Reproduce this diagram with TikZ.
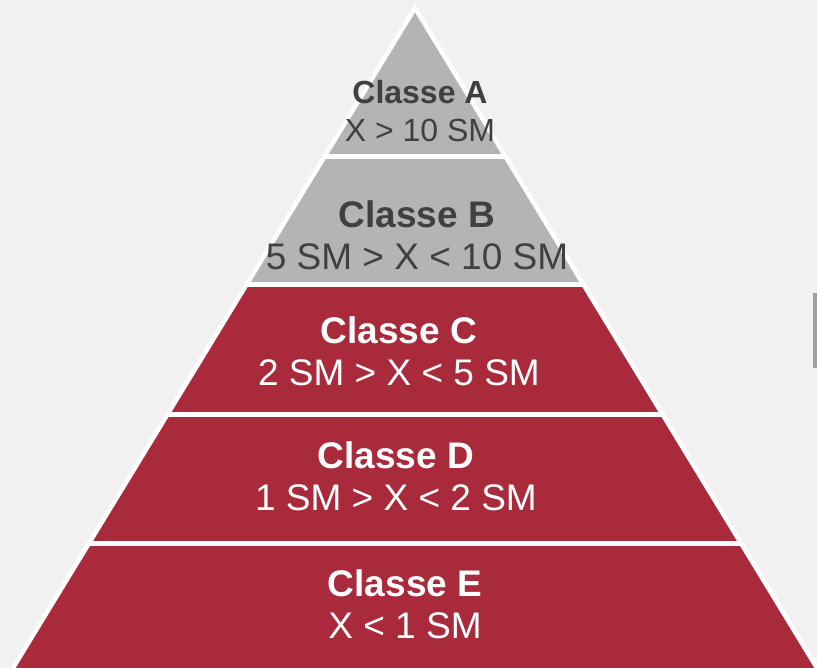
\documentclass[tikz,border=0pt]{standalone}
\usepackage{fontspec}
\setmainfont{Liberation Sans}
\usepackage{tikz}
\definecolor{bgpage}{HTML}{F1F1F1}
\definecolor{layergray}{HTML}{B4B4B4}
\definecolor{layerred}{HTML}{A82A3B}
\definecolor{textgray}{HTML}{404040}
\tikzset{
	sep/.style={white,line width=5pt},
	outline/.style={white,line width=4.5pt,line join=miter},
	lbl/.style={align=center,inner sep=0pt,font=\fontsize{37}{42}\selectfont},
	lblsmall/.style={align=center,inner sep=0pt,font=\fontsize{32}{38}\selectfont}
}
\begin{document}
\begin{tikzpicture}[x=1pt,y=-1pt]
				\useasboundingbox (0,0) rectangle (817,668);
				\fill[bgpage] (0,0) rectangle (817,668);
				\begin{scope}
					\clip (415,8) -- (13,668) -- (817,668) -- cycle;
					\fill[layerred] (0,285) rectangle (817,668);
					\fill[layergray] (0,0) rectangle (817,285);
					\foreach \y in {157,285,414,543}
						\draw[sep] (0,\y) -- (817,\y);
				\end{scope}
				\draw[outline] (13,668) -- (415,8) -- (817,668);
				\fill[gray!75] (813,293) rectangle (817,368);
				\node[lblsmall,text=textgray] (classA) at (420,111) {\textbf{Classe A}\\X > 10 SM};
				\node[lbl,text=textgray] (classB) at (417,235) {\textbf{Classe B}\\5 SM > X < 10 SM};
				\node[lbl,text=white] (classC) at (399,351) {\textbf{Classe C}\\2 SM > X < 5 SM};
				\node[lbl,text=white] (classD) at (396,476) {\textbf{Classe D}\\1 SM > X < 2 SM};
				\node[lbl,text=white] (classE) at (405,604) {\textbf{Classe E}\\X < 1 SM};
			\end{tikzpicture}
\end{document}
